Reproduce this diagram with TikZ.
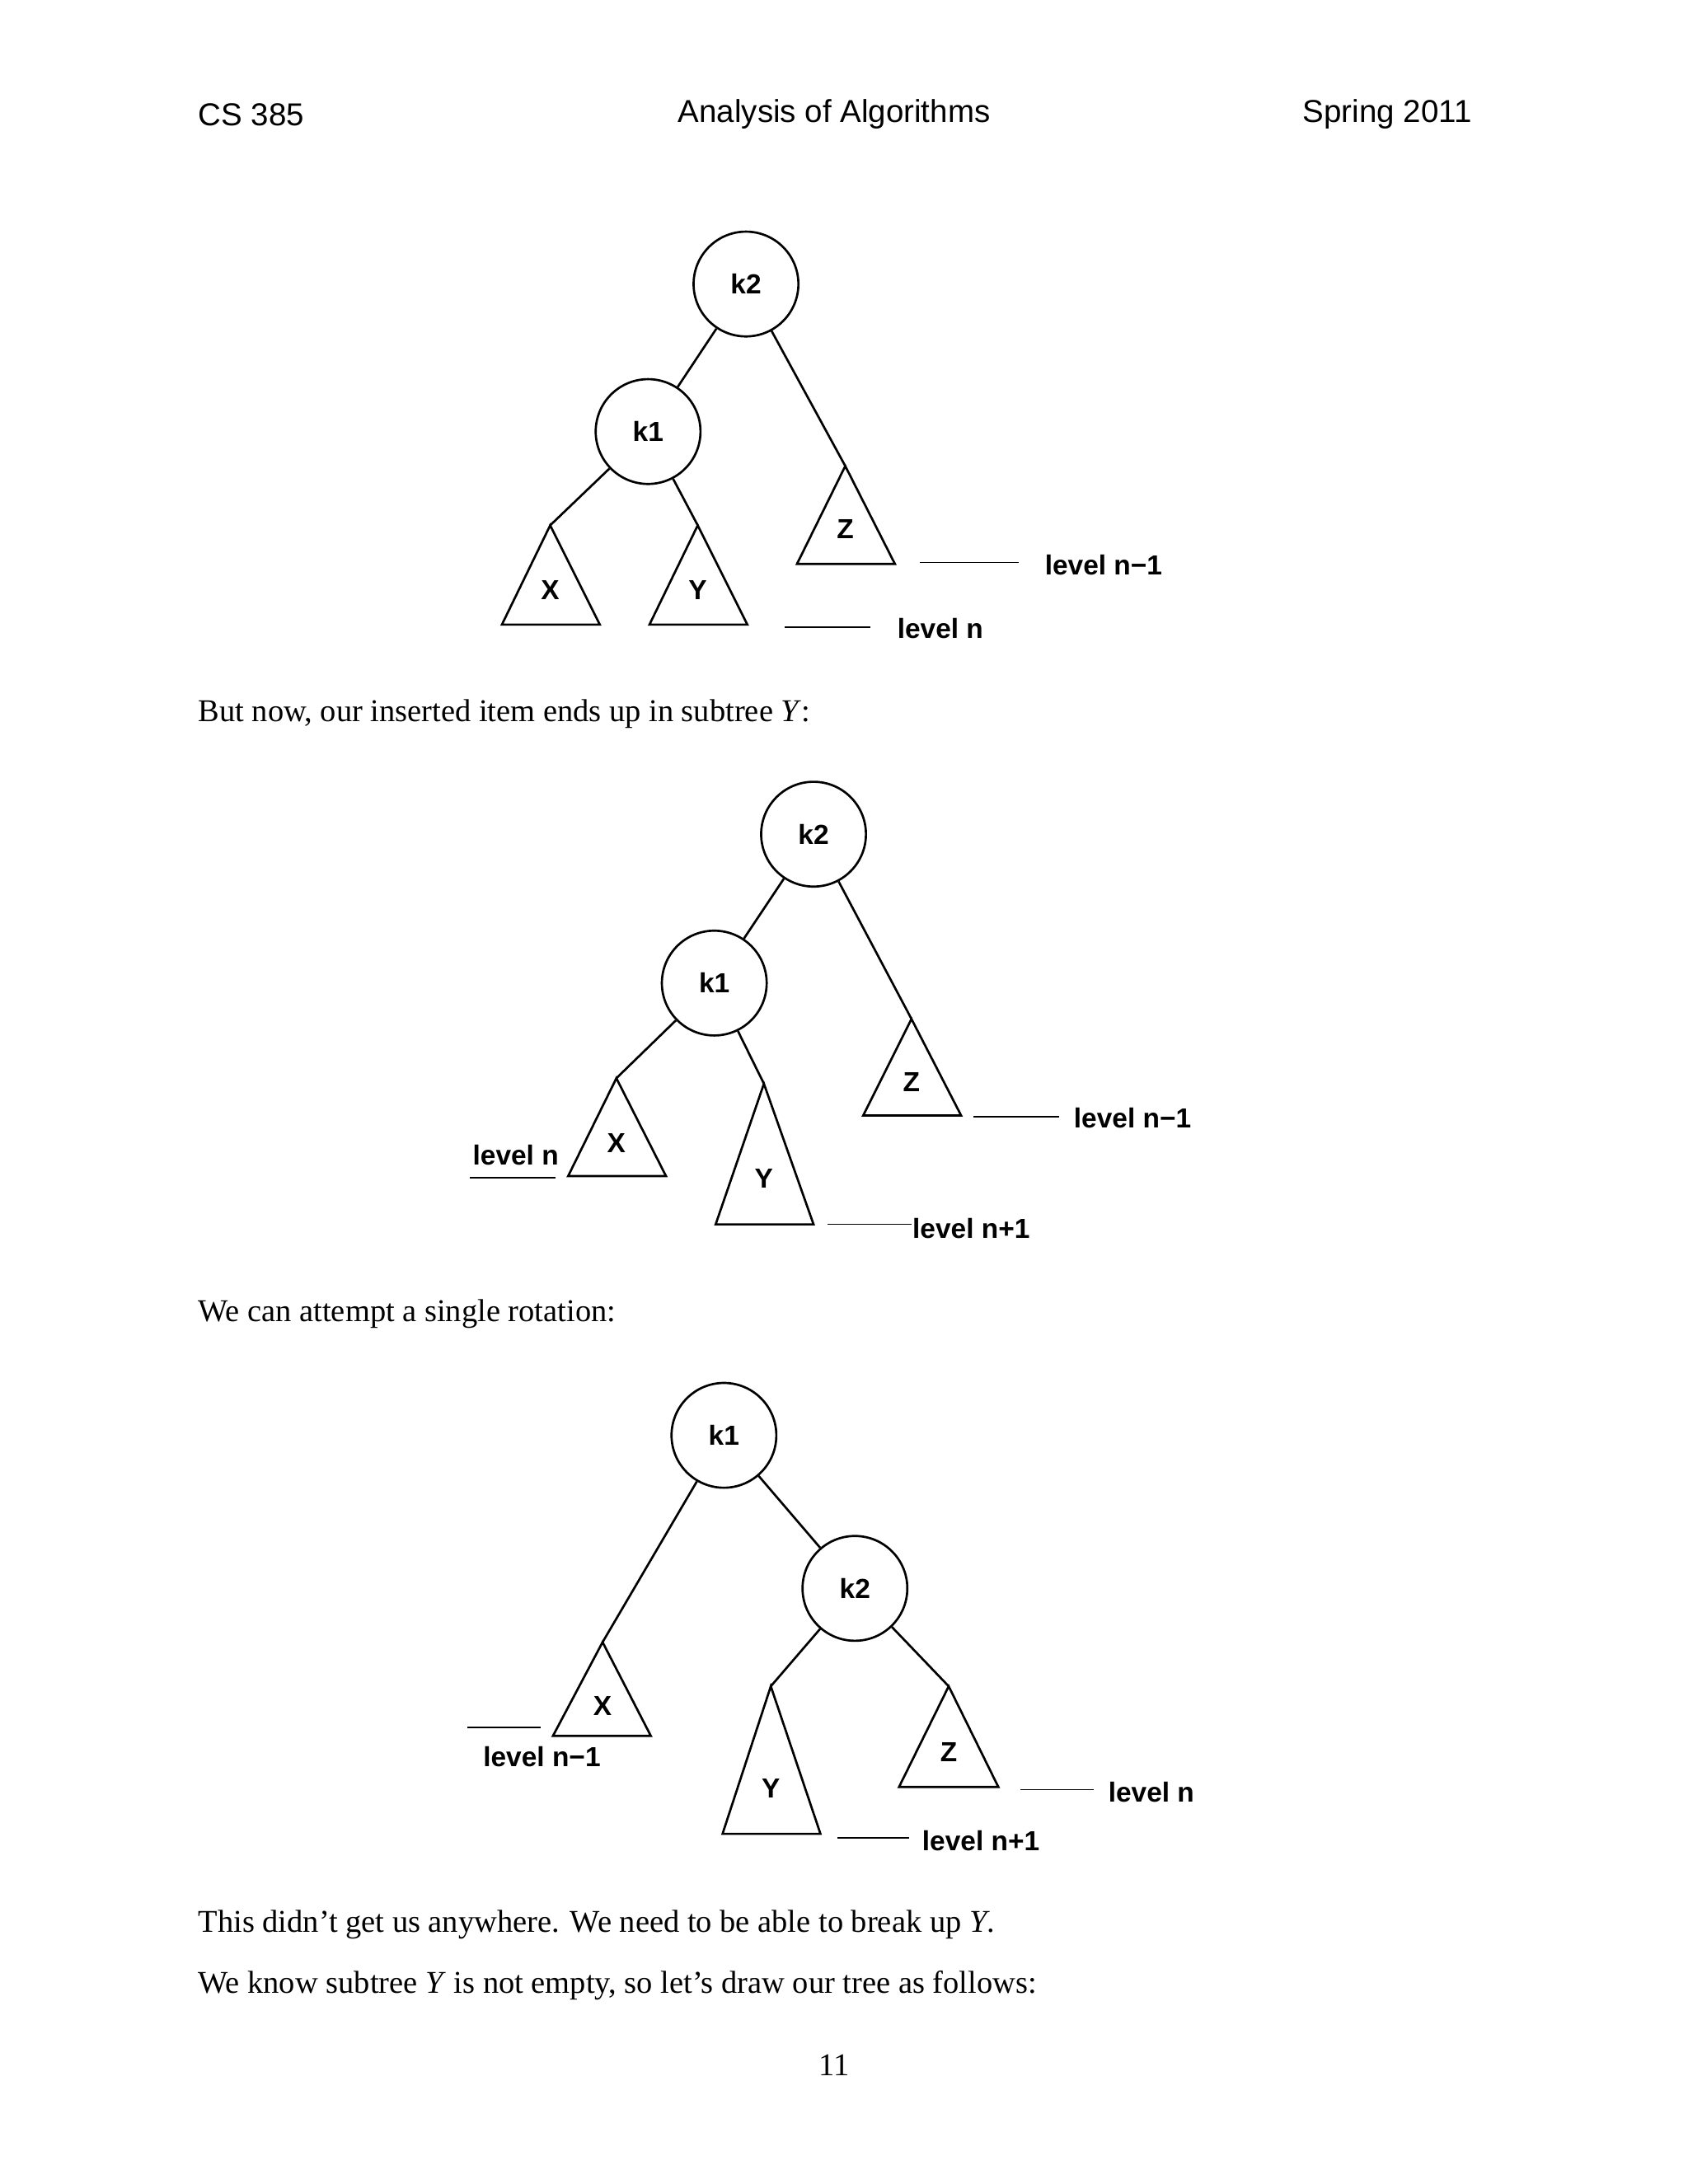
\documentclass[tikz,border=0pt]{standalone}
\usepackage{fontspec}
\setmainfont{Liberation Serif}
\setsansfont{Liberation Sans}
\begin{document}
\begin{tikzpicture}[x=1pt,y=-1pt,line width=1.6pt,
  knode/.style={circle,draw,minimum size=76pt,inner sep=0pt,font=\sffamily\bfseries\fontsize{20}{24}\selectfont},
  lbl/.style={font=\sffamily\bfseries\fontsize{20}{24}\selectfont,inner sep=0pt},
  hdr/.style={font=\sffamily\fontsize{23}{27}\selectfont,inner sep=0pt},
  body/.style={font=\rmfamily\fontsize{23}{27}\selectfont,inner sep=0pt,anchor=west}]
\useasboundingbox (0,0) rectangle (1224,1584);
\node[hdr,anchor=west] (h1) at (143,83) {CS 385};
\node[hdr] (h2) at (605,83) {Analysis of Algorithms};
\node[hdr,anchor=east] (h3) at (1068,83) {Spring 2011};
% tree 1
\node[knode] (a2) at (541,206) {k2};
\node[knode] (a1) at (470,313) {k1};
\coordinate (ax) at (399,381); \coordinate (ay) at (506,381); \coordinate (az) at (613,338);
\draw (a2) -- (a1); \draw (a2) -- (az); \draw (a1) -- (ax); \draw (a1) -- (ay);
\draw (ax) -- (364,453) -- (435,453) -- cycle;
\draw (ay) -- (471,453) -- (542,453) -- cycle;
\draw (az) -- (578,409) -- (649,409) -- cycle;
\node[lbl] (lx1) at (399,428) {X}; \node[lbl] (ly1) at (506,428) {Y}; \node[lbl] (lz1) at (613,384) {Z};
\draw[line width=1pt] (569,455) -- (631,455); \node[lbl,anchor=west] (t11) at (650,456) {level n};
\draw[line width=1pt] (667,408) -- (739,408); \node[lbl,anchor=west] (t12) at (757,410) {level n−1};
\node[body] (b1) at (143,518) {But now, our inserted item ends up in subtree \textit{Y}:};
% tree 2
\node[knode] (b2) at (590,605) {k2};
\node[knode] (b1k) at (518,713) {k1};
\coordinate (bx) at (447,782); \coordinate (by) at (554,786); \coordinate (bz) at (661,739);
\draw (b2) -- (b1k); \draw (b2) -- (bz); \draw (b1k) -- (bx); \draw (b1k) -- (by);
\draw (bx) -- (412,853) -- (483,853) -- cycle;
\draw (by) -- (519,888) -- (590,888) -- cycle;
\draw (bz) -- (626,809) -- (697,809) -- cycle;
\node[lbl] (lx2) at (447,829) {X}; \node[lbl] (ly2) at (554,855) {Y}; \node[lbl] (lz2) at (661,785) {Z};
\draw[line width=1pt] (341,854) -- (403,854); \node[lbl] (t21) at (374,838) {level n};
\draw[line width=1pt] (706,810) -- (768,810); \node[lbl,anchor=west] (t22) at (778,811) {level n−1};
\draw[line width=1pt] (600,888) -- (661,888); \node[lbl,anchor=west] (t23) at (661,891) {level n+1};
\node[body] (b2t) at (143,953) {We can attempt a single rotation:};
% tree 3
\node[knode] (c1) at (525,1041) {k1};
\node[knode] (c2) at (620,1152) {k2};
\coordinate (cx) at (437,1191); \coordinate (cy) at (559,1223); \coordinate (cz) at (688,1223);
\draw (c1) -- (c2); \draw (c1) -- (cx); \draw (c2) -- (cy); \draw (c2) -- (cz);
\draw (cx) -- (401,1259) -- (472,1259) -- cycle;
\draw (cy) -- (524,1330) -- (595,1330) -- cycle;
\draw (cz) -- (652,1296) -- (724,1296) -- cycle;
\node[lbl] (lx3) at (437,1237) {X}; \node[lbl] (ly3) at (559,1297) {Y}; \node[lbl] (lz3) at (688,1271) {Z};
\draw[line width=1pt] (339,1253) -- (392,1253); \node[lbl] (t31) at (393,1274) {level n−1};
\draw[line width=1pt] (740,1298) -- (793,1298); \node[lbl,anchor=west] (t32) at (803,1300) {level n};
\draw[line width=1pt] (607,1333) -- (659,1333); \node[lbl,anchor=west] (t33) at (668,1335) {level n+1};
\node[body] (b3) at (143,1396) {This didn’t get us anywhere. We need to be able to break up \textit{Y}.};
\node[body] (b4) at (143,1440) {We know subtree \textit{Y} is not empty, so let’s draw our tree as follows:};
\node[font=\rmfamily\fontsize{23}{27}\selectfont] (pg) at (605,1498) {11};
\end{tikzpicture}
\end{document}
